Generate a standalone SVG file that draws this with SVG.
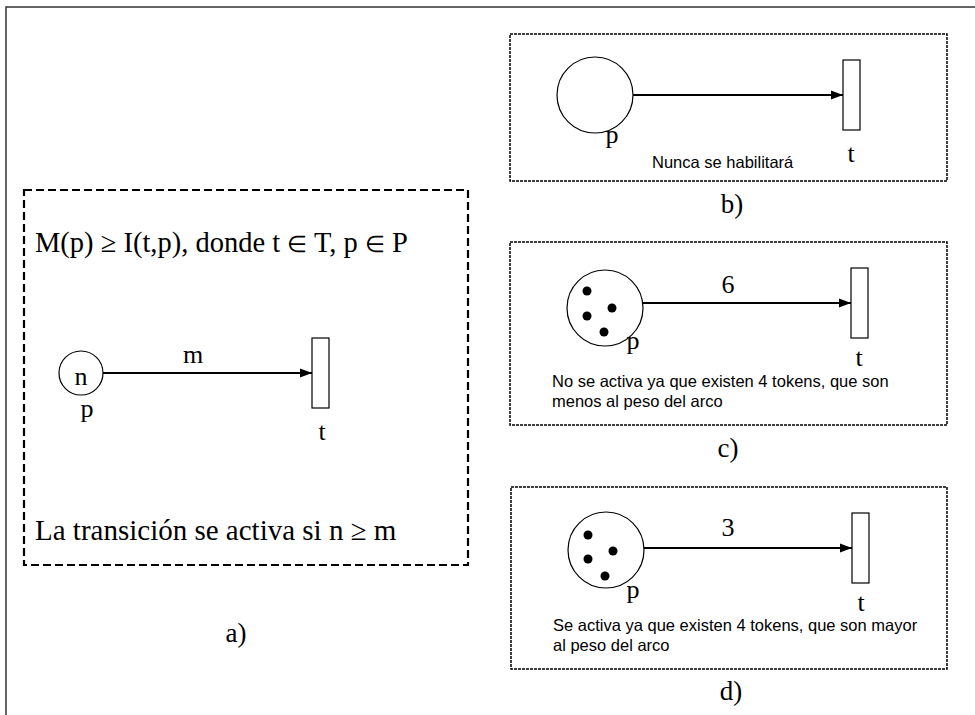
<svg xmlns="http://www.w3.org/2000/svg" width="975" height="715" viewBox="0 0 975 715">
<defs>
<style>
.tr{font-family:"Liberation Serif","Times New Roman",serif;fill:#000}
.ar{font-family:"Liberation Sans",Arial,sans-serif;fill:#000;font-size:16.5px}
.place{fill:#fff;stroke:#000;stroke-width:1.2}
.trans{fill:#fff;stroke:#000;stroke-width:1.2}
.arc{stroke:#000;stroke-width:2.2;fill:none}
.box{fill:none;stroke:#000;stroke-width:1.5;stroke-dasharray:3 1}
.boxa{fill:none;stroke:#000;stroke-width:2.2;stroke-dasharray:8 4}
.tok{fill:#000}
.sym{font-size:23px}
</style>
<marker id="ah" viewBox="0 0 10 10" refX="10" refY="5" markerWidth="5.5" markerHeight="4.2" markerUnits="strokeWidth" orient="auto" preserveAspectRatio="none">
<path d="M0,0 L10,5 L0,10 z" fill="#000"/>
</marker>
</defs>
<rect width="975" height="715" fill="#fff"/>
<path d="M6,715 V7 H975" fill="none" stroke="#333" stroke-width="1.5"/>

<g id="panel-a">
<rect class="boxa" x="24" y="190" width="444" height="375"/>
<text class="tr" x="35" y="252" font-size="28.5">M(p) ≥ I(t,p), donde t <tspan class="sym">∈</tspan> T, p <tspan class="sym">∈</tspan> P</text>
<text class="tr" x="35" y="540" font-size="29">La transición se activa si n ≥ m</text>
<text class="tr" x="236" y="642" font-size="27" text-anchor="middle">a)</text>
</g>
<g id="a-place">
<circle class="place" cx="81" cy="373" r="22"/>
<text class="tr" x="81" y="385" font-size="26" text-anchor="middle">n</text>
<text class="tr" x="87" y="417" font-size="26" text-anchor="middle">p</text>
</g>
<g id="a-trans">
<rect class="trans" x="312" y="338" width="17" height="70"/>
<text class="tr" x="322" y="440" font-size="26" text-anchor="middle">t</text>
</g>

<g id="panel-b">
<rect class="box" x="510" y="34" width="437" height="147"/>
<text class="ar" x="652" y="168">Nunca se habilitará</text>
<text class="tr" x="732" y="213" font-size="27" text-anchor="middle">b)</text>
</g>
<g id="b-place">
<circle class="place" cx="595" cy="95" r="38"/>
<text class="tr" x="612" y="143" font-size="26" text-anchor="middle">p</text>
</g>
<g id="b-trans">
<rect class="trans" x="843" y="60" width="17" height="70"/>
<text class="tr" x="851" y="162" font-size="26" text-anchor="middle">t</text>
</g>

<g id="panel-c">
<rect class="box" x="510" y="242" width="437" height="183"/>
<text class="ar" x="552" y="387">No se activa ya que existen 4 tokens, que son</text>
<text class="ar" x="552" y="407">menos al peso del arco</text>
<text class="tr" x="728" y="457" font-size="27" text-anchor="middle">c)</text>
</g>
<g id="c-place">
<circle class="place" cx="605" cy="308" r="38"/>
<circle class="tok" cx="587" cy="291" r="4.5"/>
<circle class="tok" cx="612" cy="308" r="4.5"/>
<circle class="tok" cx="587" cy="316" r="4.5"/>
<circle class="tok" cx="604" cy="332" r="4.5"/>
<text class="tr" x="633" y="349" font-size="26" text-anchor="middle">p</text>
</g>
<g id="c-trans">
<rect class="trans" x="851" y="268" width="17" height="70"/>
<text class="tr" x="859" y="366" font-size="26" text-anchor="middle">t</text>
</g>

<g id="panel-d">
<rect class="box" x="511" y="487" width="436" height="182"/>
<text class="ar" x="553" y="631">Se activa ya que existen 4 tokens, que son mayor</text>
<text class="ar" x="553" y="651">al peso del arco</text>
<text class="tr" x="731" y="700" font-size="27" text-anchor="middle">d)</text>
</g>
<g id="d-place">
<circle class="place" cx="606" cy="550" r="38"/>
<circle class="tok" cx="588" cy="535" r="4.5"/>
<circle class="tok" cx="613" cy="551" r="4.5"/>
<circle class="tok" cx="588" cy="559" r="4.5"/>
<circle class="tok" cx="605" cy="576" r="4.5"/>
<text class="tr" x="633" y="598" font-size="26" text-anchor="middle">p</text>
</g>
<g id="d-trans">
<rect class="trans" x="852" y="513" width="17" height="70"/>
<text class="tr" x="861" y="611" font-size="26" text-anchor="middle">t</text>
</g>

<g id="connectors">
<line class="arc" x1="103" y1="373" x2="312" y2="373" marker-end="url(#ah)"/>
<text class="tr" x="193" y="363" font-size="26" text-anchor="middle">m</text>
<line class="arc" x1="633" y1="95" x2="843" y2="95" marker-end="url(#ah)"/>
<line class="arc" x1="643" y1="303" x2="851" y2="303" marker-end="url(#ah)"/>
<text class="tr" x="728" y="293" font-size="26" text-anchor="middle">6</text>
<line class="arc" x1="644" y1="548" x2="852" y2="548" marker-end="url(#ah)"/>
<text class="tr" x="728" y="536" font-size="26" text-anchor="middle">3</text>
</g>
</svg>
